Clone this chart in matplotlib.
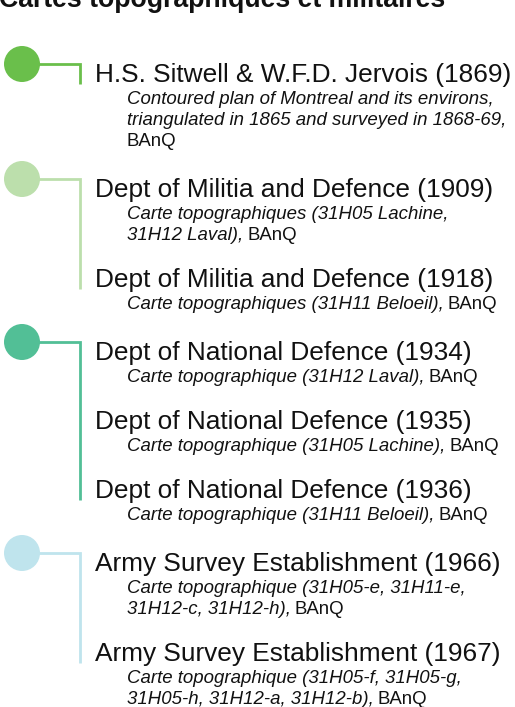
import matplotlib
matplotlib.use("Agg")
import matplotlib.pyplot as plt
from matplotlib.patches import Circle

# ---------------- data ----------------
title = "Cartes topographiques et militaires"

group_colors = ["#6abf4b", "#bcdfac", "#52bf96", "#bfe4ed"]

entry_group = [0, 1, 1, 2, 2, 2, 3, 3]
entry_authors = [
    "H.S. Sitwell & W.F.D. Jervois",
    "Dept of Militia and Defence",
    "Dept of Militia and Defence",
    "Dept of National Defence",
    "Dept of National Defence",
    "Dept of National Defence",
    "Army Survey Establishment",
    "Army Survey Establishment",
]
entry_years = [1869, 1909, 1918, 1934, 1935, 1936, 1966, 1967]
# italic description lines (last line followed by ", BAnQ" in roman)
entry_desc = [
    ["Contoured plan of Montreal and its environs,",
     "triangulated in 1865 and surveyed in 1868-69,", ""],
    ["Carte topographiques (31H05 Lachine,", "31H12 Laval),"],
    ["Carte topographiques (31H11 Beloeil),"],
    ["Carte topographique (31H12 Laval),"],
    ["Carte topographique (31H05 Lachine),"],
    ["Carte topographique (31H11 Beloeil),"],
    ["Carte topographique (31H05-e, 31H11-e,", "31H12-c, 31H12-h),"],
    ["Carte topographique (31H05-f, 31H05-g,", "31H05-h, 31H12-a, 31H12-b),"],
]
source = "BAnQ"

# ---------------- layout ----------------
W, H = 515, 707
fig = plt.figure(figsize=(W / 100, H / 100), dpi=100)
ax = fig.add_axes([0, 0, 1, 1])
ax.set_xlim(0, W)
ax.set_ylim(H, 0)
ax.axis("off")

FONT = ["Liberation Sans", "DejaVu Sans"]
head_size = 18.9
sub_size = 13.4
txt_color = "#111111"

ax.text(-1, 7, title, fontsize=19.2, fontweight="bold", family=FONT,
        ha="left", va="baseline", color=txt_color)

x_circle, r_circle = 22, 18
x_vline = 80
x_head = 95
x_sub = 127
head_to_sub = 22
sub_step = 21
gap_same = 47
gap_group = 51

y = 82
first_y = {}
last_y = {}
prev_group = None
renderer = fig.canvas.get_renderer()
for g, a, yr, desc in zip(entry_group, entry_authors, entry_years, entry_desc):
    if prev_group is not None:
        y += gap_same if g == prev_group else gap_group
    first_y.setdefault(g, y)
    last_y[g] = y
    ax.text(x_head, y, f"{a} ({yr})", fontsize=head_size, family=FONT,
            ha="left", va="baseline", color=txt_color)
    ys = y + head_to_sub
    for j, line in enumerate(desc):
        last = j == len(desc) - 1
        if line:
            t = ax.text(x_sub, ys, line, fontsize=sub_size, family=FONT, style="italic",
                        ha="left", va="baseline", color=txt_color)
            if last:
                bb = t.get_window_extent(renderer=renderer)
                ax.text(bb.x1 + 4, ys, source,
                        fontsize=sub_size, family=FONT, ha="left", va="baseline",
                        color=txt_color)
        else:
            ax.text(x_sub, ys, source, fontsize=sub_size, family=FONT,
                    ha="left", va="baseline", color=txt_color)
        if not last:
            ys += sub_step
    y = ys
    prev_group = g

for g, c in enumerate(group_colors):
    yc = first_y[g] - 18
    ax.add_patch(Circle((x_circle, yc), r_circle, color=c, zorder=3, lw=0))
    ax.plot([x_circle, x_vline, x_vline], [yc, yc, last_y[g] + 2],
            color=c, lw=2.0, solid_capstyle="butt", solid_joinstyle="miter", zorder=2)

fig.savefig("out.png", dpi=100)
